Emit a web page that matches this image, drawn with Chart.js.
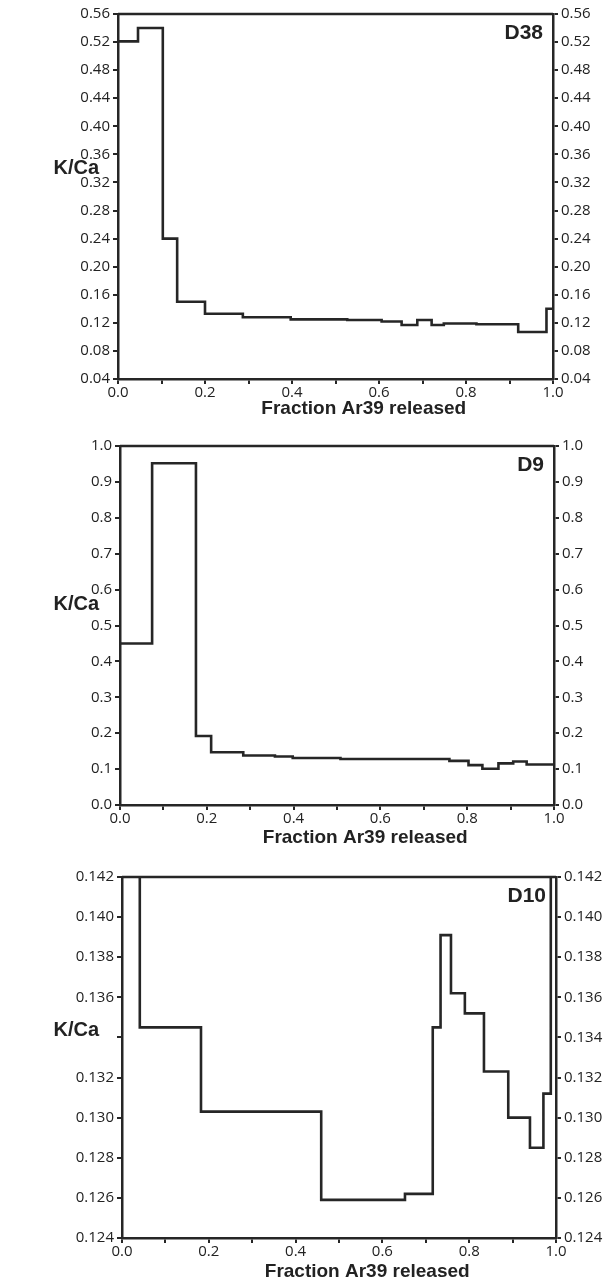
<!DOCTYPE html>
<html>
<head>
<meta charset="utf-8">
<script src="https://cdn.jsdelivr.net/npm/chart.js@4"></script>
<style>
  html, body { margin: 0; padding: 0; background: #fff; }
  .panel { position: absolute; left: 0; width: 607px; }
  canvas { display: block; }
</style>
</head>
<body>
<div class="panel" style="top:0;height:430px"><canvas id="d38" width="607" height="430"></canvas></div>
<div class="panel" style="top:430px;height:430px"><canvas id="d9" width="607" height="430"></canvas></div>
<div class="panel" style="top:860px;height:423px"><canvas id="d10" width="607" height="423"></canvas></div>
<script>
// step edges (fraction Ar39 released) and K/Ca value of each step
const d38Edges = [0, 0.046, 0.103, 0.136, 0.200, 0.287, 0.397, 0.527, 0.606, 0.652, 0.688, 0.721, 0.749, 0.824, 0.920, 0.985, 1.0];
const d38Values = [0.521, 0.540, 0.240, 0.150, 0.133, 0.128, 0.125, 0.124, 0.122, 0.117, 0.124, 0.117, 0.119, 0.118, 0.107, 0.140];

const d9Edges = [0, 0.074, 0.175, 0.210, 0.284, 0.357, 0.398, 0.508, 0.759, 0.803, 0.835, 0.872, 0.906, 0.937, 1.0];
const d9Values = [0.450, 0.952, 0.192, 0.147, 0.138, 0.135, 0.131, 0.128, 0.123, 0.111, 0.101, 0.116, 0.121, 0.113];

// first and last steps of D10 run off the top of the axis
const d10Edges = [0, 0.041, 0.182, 0.459, 0.652, 0.716, 0.734, 0.758, 0.790, 0.834, 0.890, 0.940, 0.971, 0.988, 1.0];
const d10Values = [0.150, 0.1345, 0.1303, 0.1259, 0.1262, 0.1345, 0.1391, 0.1362, 0.1352, 0.1323, 0.1300, 0.1285, 0.1312, 0.150];

const xTicks = { min: 0, max: 1, step: 0.1 };
const d38Axis = { min: 0.04, max: 0.56, step: 0.04, digits: 2 };
const d9Axis = { min: 0, max: 1, step: 0.1, digits: 1 };
// the K/Ca label sits where the left 0.134 label would be
const d10Axis = { min: 0.124, max: 0.142, step: 0.002, digits: 3, hideLeft: '0.134' };

const INK = '#262626';
const tickFont = { family: '"Open Sans", sans-serif', size: 15 };

// frame top line + free-standing labels (K/Ca, sample name, x title)
const panelText = {
    id: 'panelText',
    afterDraw(chart, args, opts){
        const ctx = chart.ctx;
        const a = chart.chartArea;
        ctx.save();
        ctx.strokeStyle = INK;
        ctx.lineWidth = 2.5;
        ctx.beginPath();
        ctx.moveTo(a.left, a.top);
        ctx.lineTo(a.right, a.top);
        ctx.stroke();

        ctx.fillStyle = '#222';
        ctx.font = 'bold 20px "Liberation Sans", Arial, sans-serif';
        ctx.textBaseline = 'middle';
        ctx.textAlign = 'right';
        ctx.fillText('K/Ca', 99, a.top + opts.kcaY);
        ctx.font = 'bold 21px "Liberation Sans", Arial, sans-serif';
        ctx.fillText(opts.label, a.right - 10, a.top + 19);

        ctx.font = 'bold 19px "Liberation Sans", Arial, sans-serif';
        ctx.textAlign = 'center';
        ctx.fillText('Fraction Ar39 released', a.left + 0.565 * (a.right - a.left), a.bottom + opts.titleGap);
        ctx.restore();
    }
};

function makePanel(id, edges, values, axis, box){
    const canvas = document.getElementById(id);
    if(!canvas) return;

    // stepped 'before': horizontal at the previous value, then vertical
    const points = values.map((v, i) => ({ x: edges[i], y: v }));
    points.push({ x: edges[edges.length - 1], y: values[values.length - 1] });

    const yScale = (pos, width) => ({
        type: 'linear',
        position: pos,
        min: axis.min,
        max: axis.max,
        ticks: {
            stepSize: axis.step,
            autoSkip: false,
            padding: 3,
            color: '#222',
            font: tickFont,
            callback: v => {
                const t = Number(v).toFixed(axis.digits);
                return (pos === 'left' && t === axis.hideLeft) ? '' : t;
            }
        },
        grid: { drawOnChartArea: false, tickLength: 5, color: INK, lineWidth: 2 },
        border: { display: true, color: INK, width: 2.5 },
        afterFit(s){ s.width = width; }
    });

    new Chart(canvas.getContext('2d'), {
        type: 'line',
        data: {
            datasets: [{
                data: points,
                stepped: 'before',
                borderColor: INK,
                borderWidth: 2.6,
                pointRadius: 0,
                fill: false,
                yAxisID: 'y'
            }]
        },
        options: {
            responsive: false,
            animation: false,
            layout: { padding: { top: box.top, left: 0, right: 0, bottom: 0 } },
            plugins: {
                legend: { display: false },
                tooltip: { enabled: false },
                panelText: { label: box.label, titleGap: box.titleGap, kcaY: box.kcaY }
            },
            scales: {
                x: {
                    type: 'linear',
                    min: xTicks.min,
                    max: xTicks.max,
                    ticks: {
                        stepSize: xTicks.step,
                        autoSkip: false,
                        maxRotation: 0,
                        padding: 0,
                        color: '#222',
                        font: tickFont,
                        callback: v => (Math.round(v * 10) % 2 === 0 ? Number(v).toFixed(1) : '')
                    },
                    grid: { drawOnChartArea: false, tickLength: 5, color: INK, lineWidth: 2 },
                    border: { display: true, color: INK, width: 2.5 },
                    afterFit(s){ s.height = box.xh; }
                },
                y: yScale('left', box.left),
                y2: yScale('right', box.right)
            }
        },
        plugins: [panelText]
    });
}

makePanel('d38', d38Edges, d38Values, d38Axis, { label: 'D38', top: 14, xh: 51, left: 118, right: 54, titleGap: 30, kcaY: 154 });
makePanel('d9', d9Edges, d9Values, d9Axis, { label: 'D9', top: 16, xh: 55, left: 120, right: 53, titleGap: 33, kcaY: 158 });
makePanel('d10', d10Edges, d10Values, d10Axis, { label: 'D10', top: 17, xh: 45, left: 122, right: 51, titleGap: 34, kcaY: 153 });
</script>
</body>
</html>
